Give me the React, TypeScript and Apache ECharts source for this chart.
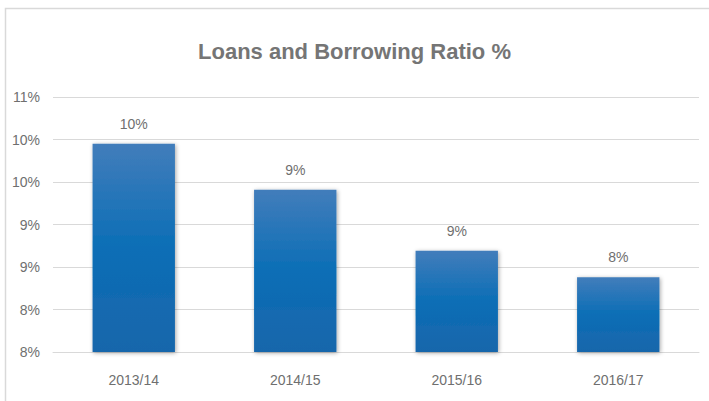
import React, { useEffect, useRef } from "react";
import * as echarts from "echarts";

const categories = ["2013/14", "2014/15", "2015/16", "2016/17"];
const ratioValues = [9.95, 9.41, 8.69, 8.38];
const axisMin = 7.5;
const axisMax = 10.5;
const axisStep = 0.5;

const FONT = "'Liberation Sans', sans-serif";

export default function App() {
  const ref = useRef<HTMLDivElement>(null);
  useEffect(() => {
    if (!ref.current) return;
    const chart = echarts.init(ref.current, undefined, { renderer: "svg" });
    const pct = (v: number) => Math.round(v) + "%";
    chart.setOption({
      animation: false,
      backgroundColor: "#ffffff",
      textStyle: { fontFamily: FONT },
      title: {
        text: "Loans and Borrowing Ratio %",
        left: "center",
        top: 35,
        textStyle: { fontFamily: FONT, fontSize: 22, fontWeight: "bold", color: "#757575" },
      },
      graphic: [
        {
          type: "rect",
          shape: { x: 5.5, y: 8.5, width: 800, height: 500 },
          style: { fill: "none", stroke: "#d9d9d9", lineWidth: 1.5 },
          silent: true,
        },
      ],
      grid: { left: 53, right: 10, top: 97, bottom: 49 },
      xAxis: {
        type: "category",
        data: categories,
        axisLine: { show: true, lineStyle: { color: "#d9d9d9" } },
        axisTick: { show: false },
        axisLabel: { color: "#6f6f6f", fontSize: 14, margin: 21, fontFamily: FONT },
      },
      yAxis: {
        type: "value",
        min: axisMin,
        max: axisMax,
        interval: axisStep,
        axisLine: { show: false },
        axisTick: { show: false },
        splitLine: { lineStyle: { color: "#d9d9d9", width: 1 } },
        axisLabel: { color: "#6f6f6f", fontSize: 14, margin: 13, formatter: pct, fontFamily: FONT },
      },
      series: [
        {
          type: "bar",
          data: ratioValues,
          barWidth: "51%",
          itemStyle: {
            color: new echarts.graphic.LinearGradient(0, 0, 0, 1, [
              { offset: 0, color: "#427dbb" },
              { offset: 0.5, color: "#0b6eb6" },
              { offset: 1, color: "#1966ab" },
            ]),
            shadowBlur: 4,
            shadowColor: "rgba(0,0,0,0.35)",
            shadowOffsetX: 1,
            shadowOffsetY: 1,
          },
          label: {
            show: true,
            position: "top",
            distance: 13,
            color: "#6f6f6f",
            fontSize: 14,
            fontFamily: FONT,
            formatter: (p: any) => pct(p.value),
          },
        },
      ],
    });
    return () => chart.dispose();
  }, []);
  return (
    <div
      ref={ref}
      style={{ position: "fixed", left: 0, top: 0, width: 709, height: 401 }}
    />
  );
}
